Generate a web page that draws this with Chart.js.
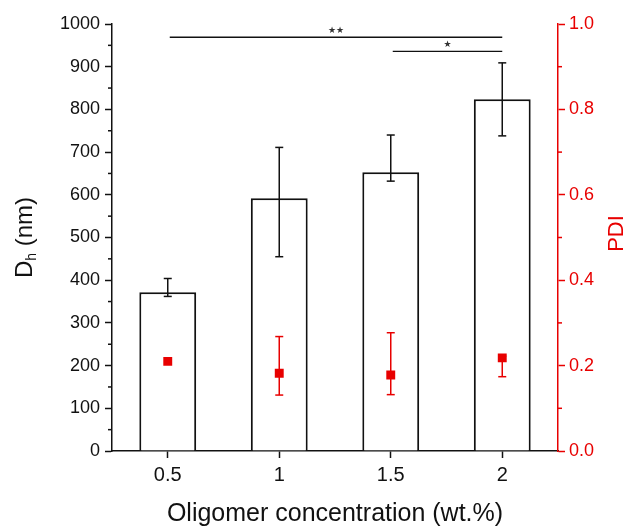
<!DOCTYPE html>
<html>
<head>
<meta charset="utf-8">
<script src="https://cdn.jsdelivr.net/npm/chart.js@4.4.0/dist/chart.umd.min.js"></script>
<style>
  html, body { margin: 0; padding: 0; background: #fff; }
  #chart { display: block; }
</style>
</head>
<body>
<canvas id="chart" width="627" height="529"></canvas>
<script>
// Oligomer concentration (wt.%)
const categories = ['0.5', '1', '1.5', '2'];

// hydrodynamic diameter (nm), bar + error range
const dhMean = [372, 592, 653, 824];
const dhLow = [362, 455, 632, 738];
const dhHigh = [404, 711, 740, 909];

// polydispersity index, right axis
const pdiMean = [0.21, 0.182, 0.178, 0.218];
const pdiLow = [0.21, 0.131, 0.132, 0.174];
const pdiHigh = [0.21, 0.268, 0.277, 0.222];

// significance brackets: category index from/to, height on left axis
const sigFrom = [0, 2];
const sigTo = [3, 3];
const sigLevel = [969, 936];
const sigText = ['\u2605\u2605', '\u2605'];

const RED = 'rgb(232, 0, 0)';
const INK = '#111';
const FONT = '"Liberation Sans", Arial, sans-serif';

function vline(ctx, x, y1, y2) {
    ctx.beginPath();
    ctx.moveTo(x, y1);
    ctx.lineTo(x, y2);
    ctx.stroke();
}
function hline(ctx, x1, x2, y) {
    ctx.beginPath();
    ctx.moveTo(x1, y);
    ctx.lineTo(x2, y);
    ctx.stroke();
}

const extras = {
    id: 'extras',
    afterDatasetsDraw(chart) {
        const ctx = chart.ctx;
        const x = chart.scales.x, y = chart.scales.y, y1 = chart.scales.y1;
        const cap = 4;
        ctx.save();

        // D_h error bars
        ctx.strokeStyle = INK;
        ctx.lineWidth = 1.5;
        dhMean.forEach((v, i) => {
            const px = x.getPixelForValue(i);
            const top = y.getPixelForValue(dhHigh[i]);
            const bot = y.getPixelForValue(dhLow[i]);
            vline(ctx, px, top, bot);
            hline(ctx, px - cap, px + cap, top);
            hline(ctx, px - cap, px + cap, bot);
        });

        // PDI error bars
        ctx.strokeStyle = RED;
        pdiMean.forEach((v, i) => {
            if (pdiHigh[i] === pdiLow[i]) return;
            const px = x.getPixelForValue(i);
            const top = y1.getPixelForValue(pdiHigh[i]);
            const bot = y1.getPixelForValue(pdiLow[i]);
            vline(ctx, px, top, bot);
            hline(ctx, px - cap, px + cap, top);
            hline(ctx, px - cap, px + cap, bot);
        });

        // significance lines
        ctx.strokeStyle = INK;
        ctx.lineWidth = 1.3;
        ctx.fillStyle = '#333';
        ctx.font = '9px "DejaVu Sans", sans-serif';
        ctx.textAlign = 'center';
        ctx.textBaseline = 'bottom';
        sigLevel.forEach((lvl, i) => {
            const a = x.getPixelForValue(sigFrom[i]) + 2;
            const b = x.getPixelForValue(sigTo[i]);
            const py = y.getPixelForValue(lvl);
            hline(ctx, a, b, py);
            ctx.fillText(sigText[i], (a + b) / 2, py - 2);
        });
        ctx.restore();
    },
    afterDraw(chart) {
        const ctx = chart.ctx;
        const y = chart.scales.y, y1 = chart.scales.y1;
        const midY = (chart.chartArea.top + chart.chartArea.bottom) / 2;
        ctx.save();
        ctx.lineWidth = 1.5;

        // minor ticks
        ctx.strokeStyle = INK;
        for (let v = 50; v < 1000; v += 100) {
            const py = y.getPixelForValue(v);
            hline(ctx, y.right - 4, y.right, py);
        }
        ctx.strokeStyle = RED;
        for (let k = 1; k < 10; k += 2) {
            const py = y1.getPixelForValue(k / 10);
            hline(ctx, y1.left, y1.left + 4, py);
        }

        // right axis title
        ctx.save();
        ctx.fillStyle = RED;
        ctx.font = '22px ' + FONT;
        ctx.textAlign = 'center';
        ctx.textBaseline = 'middle';
        ctx.translate(617, midY - 4);
        ctx.rotate(-Math.PI / 2);
        ctx.fillText('PDI', 0, 0);
        ctx.restore();

        // left axis title with subscript
        ctx.fillStyle = INK;
        ctx.translate(25, midY);
        ctx.rotate(-Math.PI / 2);
        ctx.textBaseline = 'middle';
        ctx.textAlign = 'left';
        const big = '24px ' + FONT, small = '14px ' + FONT;
        ctx.font = big;
        const wD = ctx.measureText('D').width;
        const wRest = ctx.measureText(' (nm)').width;
        ctx.font = small;
        const wh = ctx.measureText('h').width;
        let cx = -(wD + wh + wRest) / 2;
        ctx.font = big;
        ctx.fillText('D', cx, 0);
        cx += wD;
        ctx.font = small;
        ctx.fillText('h', cx, 7);
        cx += wh;
        ctx.font = big;
        ctx.fillText(' (nm)', cx, 0);
        ctx.restore();
    }
};

new Chart(document.getElementById('chart'), {
    type: 'bar',
    data: {
        labels: categories,
        datasets: [{
            type: 'line',
            data: pdiMean,
            yAxisID: 'y1',
            showLine: false,
            pointStyle: 'rect',
            pointRadius: 6.3,
            pointBackgroundColor: RED,
            pointBorderWidth: 0,
            order: 1
        }, {
            data: dhMean,
            yAxisID: 'y',
            backgroundColor: '#fff',
            borderColor: INK,
            borderWidth: 2,
            borderSkipped: 'bottom',
            barPercentage: 0.51,
            categoryPercentage: 1,
            order: 2
        }]
    },
    options: {
        responsive: false,
        animation: false,
        layout: { padding: { top: 24, left: 0, right: 0, bottom: 0 } },
        plugins: {
            legend: { display: false },
            tooltip: { enabled: false }
        },
        scales: {
            x: {
                offset: true,
                afterFit: s => { s.height = 78; },
                grid: {
                    offset: false,
                    drawOnChartArea: false,
                    tickLength: 7,
                    tickWidth: 1.5,
                    tickColor: INK
                },
                border: { color: INK, width: 1.5 },
                ticks: {
                    color: INK,
                    padding: 5,
                    font: { family: FONT, size: 20 }
                },
                title: {
                    display: true,
                    text: 'Oligomer concentration (wt.%)',
                    color: INK,
                    padding: 0,
                    font: { family: FONT, size: 25 }
                }
            },
            y: {
                position: 'left',
                min: 0,
                max: 1000,
                afterFit: s => { s.width = 112; },
                grid: {
                    drawOnChartArea: false,
                    tickLength: 7,
                    tickWidth: 1.5,
                    tickColor: INK
                },
                border: { color: INK, width: 1.5 },
                ticks: {
                    stepSize: 100,
                    color: INK,
                    padding: 5,
                    font: { family: FONT, size: 18 },
                    callback: v => String(v)
                }
            },
            y1: {
                position: 'right',
                min: 0,
                max: 1,
                afterFit: s => { s.width = 69; },
                grid: {
                    drawOnChartArea: false,
                    tickLength: 7,
                    tickWidth: 1.5,
                    tickColor: RED
                },
                border: { color: RED, width: 1.5 },
                ticks: {
                    stepSize: 0.2,
                    color: RED,
                    padding: 4,
                    font: { family: FONT, size: 18 },
                    callback: v => v.toFixed(1)
                }
            }
        }
    },
    plugins: [extras]
});
</script>
</body>
</html>
